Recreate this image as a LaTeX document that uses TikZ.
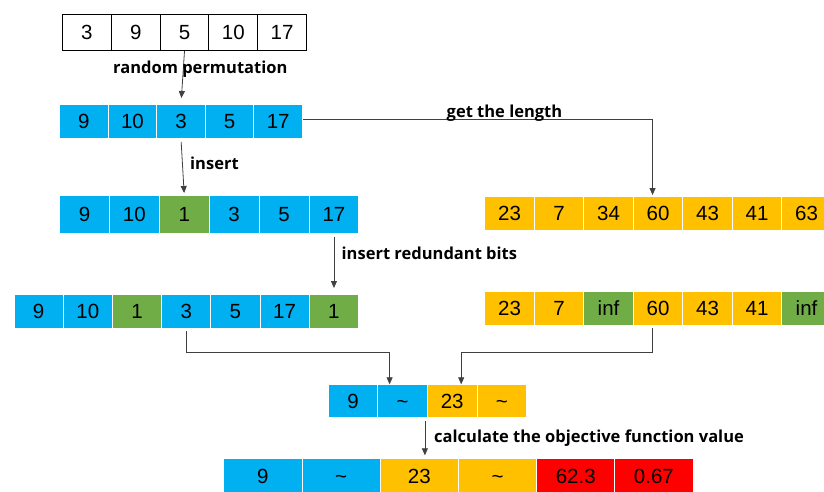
\documentclass[tikz,border=0pt]{standalone}
\usepackage{fontspec}
\setmainfont{Liberation Sans}
\newfontfamily\labelfont{Open Sans}
\usetikzlibrary{arrows.meta}

\definecolor{cblue}{HTML}{00B0F0}
\definecolor{cgreen}{HTML}{70AD47}
\definecolor{corange}{HTML}{FFC000}
\definecolor{cred}{HTML}{FF0000}
\definecolor{linegray}{HTML}{404040}

\tikzset{
  cell/.style={rectangle, anchor=north west, inner sep=0pt, draw=white,
    line width=1pt, font=\fontsize{20.5}{20.5}\selectfont,
    text height=14.7pt, text depth=0pt},
  plaincell/.style={cell, draw=black, fill=white},
  conn/.style={draw=linegray, line width=0.8pt,
    -{Triangle[width=6pt,length=7pt]}},
  steplabel/.style={anchor=west, inner sep=0pt,
    font=\labelfont\bfseries\fontsize{16.5}{16.5}\selectfont}
}

\begin{document}
\begin{tikzpicture}[x=1pt, y=-1pt]
\useasboundingbox (0,0) rectangle (824,491);
\clip (0,0) rectangle (824,491);

% original sequence
\foreach \v [count=\i] in {3,9,5,10,17}
  \node[plaincell, minimum width=48.8pt, minimum height=36pt]
    (r1c\i) at ({62+(\i-1)*48.8},14) {\v};

% permuted sequence
\foreach \v [count=\i] in {9,10,3,5,17}
  \node[cell, fill=cblue, minimum width=48.6pt, minimum height=34pt]
    (r2c\i) at ({59+(\i-1)*48.6},104) {\v};

% after insertion
\foreach \v/\f [count=\i] in {9/cblue,10/cblue,1/cgreen,3/cblue,5/cblue,17/cblue}
  \node[cell, fill=\f, minimum width=49.9pt, minimum height=38pt]
    (r3c\i) at ({59+(\i-1)*49.9},195) {\v};

% with redundant bits
\foreach \v/\f [count=\i] in {9/cblue,10/cblue,1/cgreen,3/cblue,5/cblue,17/cblue,1/cgreen}
  \node[cell, fill=\f, minimum width=49.2pt, minimum height=33.5pt]
    (r4c\i) at ({13.5+(\i-1)*49.2},294) {\v};

% lengths
\foreach \v [count=\i] in {23,7,34,60,43,41,63}
  \node[cell, fill=corange, minimum width=49.5pt, minimum height=34pt]
    (r5c\i) at ({484.3+(\i-1)*49.5},196) {\v};

% lengths with redundant entries
\foreach \v/\f [count=\i] in {23/corange,7/corange,inf/cgreen,60/corange,43/corange,41/corange,inf/cgreen}
  \node[cell, fill=\f, minimum width=49.5pt, minimum height=34pt]
    (r6c\i) at ({484.3+(\i-1)*49.5},291) {\v};

% combined solution
\foreach \v/\f [count=\i] in {9/cblue,\textasciitilde/cblue,23/corange,\textasciitilde/corange}
  \node[cell, fill=\f, minimum width=49.6pt, minimum height=33pt]
    (r7c\i) at ({327.7+(\i-1)*49.6},384.3) {\v};

% solution with objective values
\foreach \v/\f [count=\i] in {9/cblue,\textasciitilde/cblue,23/corange,\textasciitilde/corange,62.3/cred,0.67/cred}
  \node[cell, fill=\f, minimum width=78.2pt, minimum height=34pt]
    (r8c\i) at ({223.3+(\i-1)*78.2},458.3) {\v};

% level of the two merging connectors
\coordinate (merge) at (0,352.3);

% connectors
\draw[conn, shorten >=6pt] (r1c3.south) -- (r2c3.north);
\draw[conn, shorten <=3pt, shorten >=2pt] (r2c3.south) -- (r3c3.north);
\draw[conn, shorten >=1pt] ([yshift=2pt]r2c5.east) -| ([xshift=-5.5pt]r5c4.north);
\draw[conn, shorten <=3pt, shorten >=6pt] (r3c6.south) -- (r3c6.south |- r4c7.north);
\draw[conn, shorten <=2.5pt] (r4c4.south) -- (r4c4.south |- merge)
  -| ([xshift=-13pt]r7c2.north);
\draw[conn, shorten <=2pt] ([xshift=-6pt]r6c4.south) -- ([xshift=-6pt]r6c4.south |- merge)
  -| ([xshift=9pt]r7c3.north);
\draw[conn, shorten <=3pt, shorten >=3pt] ([xshift=-2pt]r7c3.south west)
  -- ([xshift=-2pt]r7c3.south west |- r8c3.north);

% step labels
\node[steplabel] (lperm) at (113,69) {random permutation};
\node[steplabel] (lins) at (190,163) {insert};
\node[steplabel] (lred) at (341.5,253.3) {insert redundant bits};
\node[steplabel] (llen) at (446.5,113.3) {get the length};
\node[steplabel] (lobj) at (434,437.7) {calculate the objective function value};
\end{tikzpicture}
\end{document}
